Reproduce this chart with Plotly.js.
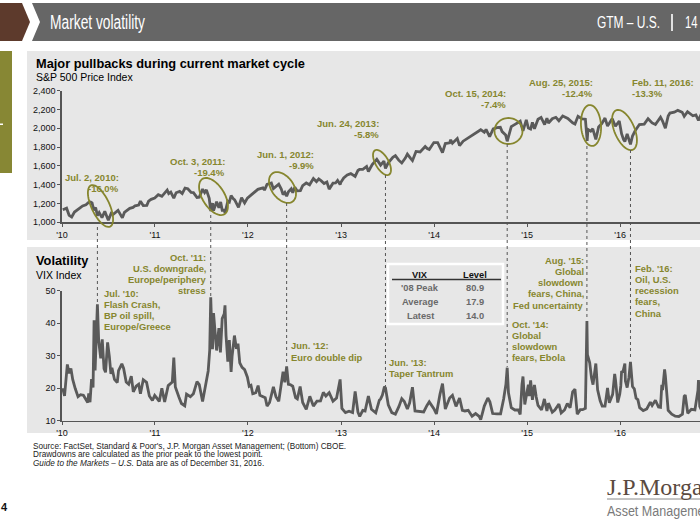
<!DOCTYPE html>
<html><head><meta charset="utf-8">
<script src="https://cdn.plot.ly/plotly-3.0.1.min.js"></script>
<style>html,body{margin:0;padding:0;background:#fff}#chart{width:700px;height:525px}</style>
</head><body><div id="chart"></div>
<script>
// ---------------- DATA ----------------
const spxDates = ['2010-01-04','2010-01-19','2010-01-29','2010-02-08','2010-02-19','2010-03-05','2010-03-23','2010-04-05','2010-04-15','2010-04-23','2010-04-29','2010-05-06','2010-05-13','2010-05-20','2010-05-27','2010-06-07','2010-06-18','2010-06-29','2010-07-02','2010-07-13','2010-07-20','2010-08-09','2010-08-17','2010-08-26','2010-09-03','2010-09-15','2010-09-24','2010-10-07','2010-10-15','2010-10-29','2010-11-05','2010-11-16','2010-11-30','2010-12-07','2010-12-17','2010-12-31',
'2011-01-14','2011-01-28','2011-02-09','2011-02-18','2011-02-24','2011-03-04','2011-03-16','2011-03-25','2011-04-08','2011-04-18','2011-04-29','2011-05-10','2011-05-23','2011-06-01','2011-06-15','2011-06-24','2011-07-07','2011-07-15','2011-07-22','2011-08-02','2011-08-08','2011-08-15','2011-08-19','2011-08-31','2011-09-09','2011-09-16','2011-09-22','2011-09-30','2011-10-03','2011-10-14','2011-10-20','2011-10-27','2011-11-04','2011-11-10','2011-11-25','2011-12-07','2011-12-19','2011-12-30',
'2012-01-13','2012-01-26','2012-02-09','2012-02-29','2012-03-06','2012-03-16','2012-04-02','2012-04-10','2012-04-20','2012-05-01','2012-05-11','2012-05-18','2012-05-25','2012-06-01','2012-06-08','2012-06-19','2012-06-25','2012-07-03','2012-07-12','2012-07-25','2012-08-03','2012-08-17','2012-08-30','2012-09-14','2012-09-26','2012-10-05','2012-10-15','2012-10-26','2012-11-06','2012-11-15','2012-11-30','2012-12-10','2012-12-18','2012-12-28','2012-12-31',
'2013-01-11','2013-01-25','2013-02-08','2013-02-25','2013-03-08','2013-03-14','2013-03-27','2013-04-11','2013-04-18','2013-05-03','2013-05-21','2013-06-05','2013-06-18','2013-06-24','2013-07-05','2013-07-23','2013-08-02','2013-08-15','2013-08-27','2013-09-10','2013-09-18','2013-09-30','2013-10-08','2013-10-22','2013-11-07','2013-11-27','2013-12-05','2013-12-13','2013-12-31',
'2014-01-15','2014-01-24','2014-02-03','2014-02-14','2014-03-03','2014-03-07','2014-03-14','2014-04-02','2014-04-11','2014-04-25','2014-05-13','2014-05-30','2014-06-20','2014-07-03','2014-07-17','2014-07-24','2014-08-07','2014-08-21','2014-09-05','2014-09-18','2014-09-25','2014-10-01','2014-10-09','2014-10-15','2014-10-22','2014-10-31','2014-11-13','2014-11-28','2014-12-05','2014-12-16','2014-12-29',
'2015-01-06','2015-01-15','2015-01-22','2015-01-30','2015-02-13','2015-02-25','2015-03-11','2015-03-20','2015-03-26','2015-04-10','2015-04-24','2015-05-06','2015-05-21','2015-06-10','2015-06-29','2015-07-08','2015-07-20','2015-08-05','2015-08-18','2015-08-21','2015-08-25','2015-08-28','2015-09-08','2015-09-16','2015-09-28','2015-10-09','2015-10-22','2015-11-03','2015-11-13','2015-12-01','2015-12-14','2015-12-29',
'2016-01-07','2016-01-15','2016-01-20','2016-01-29','2016-02-05','2016-02-11','2016-02-19','2016-03-01','2016-03-17','2016-04-05','2016-04-20','2016-05-06','2016-05-19','2016-06-08','2016-06-16','2016-06-27','2016-07-08','2016-07-15','2016-08-01','2016-08-15','2016-09-01','2016-09-09','2016-09-22','2016-10-13','2016-10-25','2016-11-04','2016-11-25','2016-12-13','2016-12-30'];
const spxValues = [1133,1150,1074,1057,1109,1139,1174,1187,1211,1217,1206,1128,1157,1071,1103,1050,1117,1041,1022,1095,1083,1127,1092,1047,1105,1125,1148,1158,1176,1183,1225,1178,1180,1224,1244,1258,
1293,1276,1321,1343,1306,1321,1256,1314,1328,1305,1364,1357,1317,1315,1265,1268,1353,1316,1345,1254,1119,1204,1124,1219,1154,1216,1129,1131,1099,1225,1215,1285,1253,1239,1159,1261,1206,1258,
1289,1318,1351,1366,1343,1404,1419,1358,1379,1405,1353,1295,1318,1278,1326,1357,1314,1374,1335,1337,1391,1418,1399,1466,1433,1461,1440,1412,1428,1353,1416,1418,1446,1402,1426,
1472,1503,1518,1488,1551,1563,1563,1593,1541,1614,1669,1608,1652,1573,1632,1692,1709,1661,1631,1683,1725,1682,1656,1754,1748,1807,1785,1775,1848,
1848,1790,1742,1838,1845,1878,1841,1891,1815,1863,1897,1924,1962,1985,1958,1988,1910,1993,2007,2011,1965,1946,1928,1862,1927,2018,2039,2068,2075,1972,2090,
2003,1992,2063,1995,2097,2115,2040,2108,2056,2102,2117,2080,2131,2105,2058,2046,2128,2100,2097,1971,1867,1989,1970,1995,1881,2014,2052,2109,2023,2103,2022,2078,
1943,1880,1859,1940,1880,1829,1918,1978,2040,2045,2102,2057,2040,2119,2077,2000,2130,2162,2171,2191,2171,2128,2177,2133,2143,2085,2213,2271,2239];

const vixDates = ['2010-01-04','2010-01-11','2010-01-22','2010-01-29','2010-02-05','2010-02-12','2010-02-22','2010-03-05','2010-03-15','2010-03-26','2010-04-12','2010-04-16','2010-04-21','2010-04-27','2010-05-03','2010-05-06','2010-05-07','2010-05-11','2010-05-14','2010-05-20','2010-05-25','2010-06-02','2010-06-08','2010-06-15','2010-06-21','2010-06-29','2010-07-06','2010-07-12','2010-07-16','2010-07-26','2010-08-06','2010-08-11','2010-08-24','2010-08-31','2010-09-10','2010-09-20','2010-09-30','2010-10-08','2010-10-19','2010-10-29','2010-11-05','2010-11-16','2010-11-29','2010-12-10','2010-12-22','2010-12-31',
'2011-01-07','2011-01-18','2011-01-28','2011-02-08','2011-02-22','2011-03-10','2011-03-16','2011-03-22','2011-04-05','2011-04-15','2011-04-28','2011-05-05','2011-05-20','2011-06-01','2011-06-15','2011-06-24','2011-07-07','2011-07-18','2011-07-29','2011-08-04','2011-08-08','2011-08-10','2011-08-15','2011-08-19','2011-08-31','2011-09-09','2011-09-15','2011-09-22','2011-09-30','2011-10-03','2011-10-07','2011-10-14','2011-10-20','2011-10-27','2011-10-31','2011-11-09','2011-11-17','2011-11-23','2011-11-30','2011-12-09','2011-12-19','2011-12-30',
'2012-01-06','2012-01-13','2012-01-20','2012-02-01','2012-02-10','2012-02-17','2012-03-01','2012-03-09','2012-03-16','2012-03-26','2012-04-10','2012-04-20','2012-05-01','2012-05-09','2012-05-18','2012-05-25','2012-06-01','2012-06-08','2012-06-15','2012-06-25','2012-07-06','2012-07-13','2012-07-24','2012-08-03','2012-08-17','2012-08-31','2012-09-14','2012-09-28','2012-10-12','2012-10-23','2012-11-02','2012-11-15','2012-11-30','2012-12-14','2012-12-28',
'2013-01-04','2013-01-18','2013-02-01','2013-02-15','2013-02-25','2013-03-08','2013-03-15','2013-03-27','2013-04-05','2013-04-18','2013-04-30','2013-05-17','2013-05-31','2013-06-05','2013-06-12','2013-06-20','2013-06-24','2013-07-05','2013-07-19','2013-08-02','2013-08-16','2013-08-27','2013-09-06','2013-09-18','2013-09-27','2013-10-08','2013-10-18','2013-11-01','2013-11-21','2013-12-04','2013-12-13','2013-12-31',
'2014-01-10','2014-01-24','2014-02-03','2014-02-14','2014-03-03','2014-03-14','2014-03-28','2014-04-11','2014-04-22','2014-05-02','2014-05-15','2014-05-30','2014-06-13','2014-06-27','2014-07-03','2014-07-17','2014-07-31','2014-08-08','2014-08-19','2014-09-05','2014-09-19','2014-10-01','2014-10-10','2014-10-15','2014-10-20','2014-10-31','2014-11-14','2014-11-28','2014-12-05','2014-12-12','2014-12-16','2014-12-23','2014-12-31',
'2015-01-06','2015-01-09','2015-01-15','2015-01-22','2015-01-30','2015-02-06','2015-02-13','2015-02-27','2015-03-10','2015-03-20','2015-03-26','2015-04-10','2015-04-20','2015-05-06','2015-05-15','2015-05-28','2015-06-08','2015-06-19','2015-06-29','2015-07-08','2015-07-17','2015-07-29','2015-08-07','2015-08-18','2015-08-21','2015-08-24','2015-08-26','2015-08-31','2015-09-04','2015-09-11','2015-09-17','2015-09-28','2015-10-05','2015-10-15','2015-10-23','2015-11-03','2015-11-13','2015-11-20','2015-12-03','2015-12-11','2015-12-14','2015-12-23','2015-12-31',
'2016-01-04','2016-01-07','2016-01-13','2016-01-20','2016-01-22','2016-01-29','2016-02-05','2016-02-11','2016-02-19','2016-02-26','2016-03-04','2016-03-11','2016-03-18','2016-04-01','2016-04-15','2016-04-29','2016-05-06','2016-05-19','2016-05-31','2016-06-08','2016-06-13','2016-06-16','2016-06-24','2016-06-27','2016-07-08','2016-07-22','2016-08-05','2016-08-19','2016-09-02','2016-09-09','2016-09-13','2016-09-23','2016-10-07','2016-10-21','2016-11-02','2016-11-04','2016-11-09','2016-11-18','2016-12-02','2016-12-09','2016-12-20','2016-12-30'];
const vixValues = [20.0,17.6,27.3,24.6,26.1,22.7,19.9,17.4,18.0,17.8,15.6,18.4,15.7,22.8,20.2,33.0,40.9,25.5,31.2,45.8,34.6,29.2,35.0,26.0,24.9,34.1,29.7,24.4,26.3,22.7,21.7,25.4,27.5,26.1,21.9,21.2,23.7,18.9,20.6,21.2,18.3,22.6,21.8,17.6,16.2,17.8,
17.1,15.9,20.0,15.8,20.8,21.9,29.4,20.4,17.3,15.3,14.6,18.2,17.4,18.3,22.0,21.1,15.9,20.9,25.3,31.7,48.0,42.9,32.0,43.1,31.6,38.5,31.0,41.4,42.9,45.5,36.2,28.2,34.8,25.0,29.9,36.2,32.1,33.7,27.8,26.4,25.7,23.4,
20.6,20.9,18.3,18.6,20.8,17.8,17.3,17.1,14.5,15.6,20.4,17.4,16.0,20.1,25.1,21.8,26.7,21.2,21.1,20.6,17.1,16.7,20.5,15.6,13.5,17.5,14.5,16.0,16.1,18.7,17.6,18.6,16.0,17.0,22.7,
13.8,12.5,12.9,12.5,19.0,12.6,11.3,13.2,13.0,17.6,13.5,12.4,16.3,16.7,17.9,20.5,20.1,14.9,12.5,12.0,14.4,16.8,15.9,13.6,15.5,20.3,13.0,12.9,12.7,14.7,15.8,13.7,
12.1,18.1,21.4,13.6,17.0,17.8,14.4,17.0,13.2,13.0,13.2,11.4,12.2,11.3,10.3,14.5,17.0,15.8,12.2,12.1,12.1,16.7,21.2,26.3,18.6,14.0,13.3,13.3,11.9,21.1,23.6,15.0,19.2,
21.1,17.6,22.4,16.4,21.0,17.3,14.7,13.3,16.7,13.0,15.4,12.6,13.3,15.1,12.4,13.3,15.3,14.0,18.9,19.7,12.0,13.4,13.4,13.8,28.0,40.7,30.3,28.4,27.8,23.2,21.1,27.6,19.5,16.1,14.5,14.5,20.1,15.5,18.1,24.4,22.7,15.6,18.2,
20.7,25.0,25.2,27.6,22.3,20.2,23.4,28.1,20.5,19.8,16.9,16.5,14.0,13.1,13.6,15.7,14.7,16.3,14.2,14.1,21.0,19.4,25.8,23.9,13.2,12.0,11.4,11.3,12.0,17.5,17.9,12.3,13.5,13.3,19.3,22.5,14.4,12.9,14.1,11.8,11.5,14.0];

const yearTicks = ['2010-01-01','2011-01-01','2012-01-01','2013-01-01','2014-01-01','2015-01-01','2016-01-01'];
const yearLabels = ["'10","'11","'12","'13","'14","'15","'16"];
const spxTicks = [1000,1200,1400,1600,1800,2000,2200,2400];
const vixTicks = [10,20,30,40,50];

const pullbackDates = ['Jul. 2, 2010:','Oct. 3, 2011:','Jun. 1, 2012:','Jun. 24, 2013:','Oct. 15, 2014:','Aug. 25, 2015:','Feb. 11, 2016:'];
const pullbackPcts = ['-16.0%','-19.4%','-9.9%','-5.8%','-7.4%','-12.4%','-13.3%'];
const eventDates = ['2010-05-20','2011-08-08','2012-06-01','2013-06-24','2014-10-15','2015-08-24','2016-02-11'];
const eventTexts = [
  ["Jul. '10:","Flash Crash,","BP oil spill,","Europe/Greece"],
  ["Oct. '11:","U.S. downgrade,","Europe/periphery","stress"],
  ["Jun. '12:","Euro double dip"],
  ["Jun. '13:","Taper Tantrum"],
  ["Oct. '14:","Global","slowdown","fears, Ebola"],
  ["Aug. '15:","Global","slowdown","fears, China,","Fed uncertainty"],
  ["Feb. '16:","Oil, U.S.","recession","fears,","China"]
];
const tableHeader = ['VIX','Level'];
const tableRows = ["'08 Peak",'Average','Latest'];
const tableLevels = ['80.9','17.9','14.0'];

// ---------------- LAYOUT HELPERS (pixel -> paper) ----------------
const W = 700, H = 525;
const px = x => x / W;
const py = y => 1 - y / H;
const FONT = 'Liberation Sans, Arial, sans-serif';
const OLIVE = '#86862e';
const LINE = '#5a5a5a';
const AXIS = '#555555';

const x0ms = Date.parse('2010-01-01T00:00:00Z');
const yearMs = 365.25 * 86400000;
const xEnd = new Date(x0ms + (638 / 93) * yearMs).toISOString().slice(0, 10);

const annotations = [];
const shapes = [];
const squeeze = {};   // text -> target pixel width (narrow header typeface)
function txt(x, y, s, o) {
  o = o || {};
  annotations.push({xref:'paper', yref:'paper', x:px(x), y:py(y), text:s, showarrow:false,
    xanchor:o.anchor || 'left', yanchor:'middle', align:o.anchor === 'right' ? 'right' : (o.anchor === 'center' ? 'center' : 'left'),
    borderpad:0, font:{family:o.family || FONT, size:o.size || 9, color:o.color || '#111'}});
  if (o.width) squeeze[s] = {w:o.width, left:x};
}
function block(lines, x, yFirst, anchor, step, size, color) {
  lines.forEach((l, i) => txt(x, yFirst + i * step, '<b>' + l + '</b>', {anchor, size, color}));
}
function rect(x0, y0, x1, y1, fill, line) {
  shapes.push({type:'rect', xref:'paper', yref:'paper', x0:px(x0), x1:px(x1), y0:py(y1), y1:py(y0),
    fillcolor:fill, line:line || {width:0}, layer:'below'});
}
function poly(pts, fill) {
  const d = pts.map((p, i) => (i ? 'L' : 'M') + px(p[0]).toFixed(5) + ',' + py(p[1]).toFixed(5)).join(' ') + ' Z';
  shapes.push({type:'path', xref:'paper', yref:'paper', path:d, fillcolor:fill, line:{width:0}, layer:'below'});
}
function ellipse(cx, cy, a, b, deg) {
  const t = deg * Math.PI / 180, pts = [];
  for (let i = 0; i <= 60; i++) {
    const u = 2 * Math.PI * i / 60;
    pts.push([cx + a * Math.cos(u) * Math.cos(t) - b * Math.sin(u) * Math.sin(t),
              cy + a * Math.cos(u) * Math.sin(t) + b * Math.sin(u) * Math.cos(t)]);
  }
  const d = pts.map((p, i) => (i ? 'L' : 'M') + px(p[0]).toFixed(5) + ',' + py(p[1]).toFixed(5)).join(' ') + ' Z';
  shapes.push({type:'path', xref:'paper', yref:'paper', path:d, line:{color:OLIVE, width:1.8}, fillcolor:'rgba(0,0,0,0)', layer:'above'});
}

// ---------------- HEADER ----------------
poly([[0,3],[22,3],[30,22],[22,41],[0,41]], '#5d3a2c');
poly([[32,3],[700,3],[700,41],[32,41],[40,22]], '#666666');
txt(50, 22.5, 'Market volatility', {size:19.5, color:'#ffffff', width:95});
txt(597, 22.5, 'GTM – U.S.', {size:16, color:'#ffffff', width:63});
shapes.push({type:'line', xref:'paper', yref:'paper', x0:px(672), x1:px(672), y0:py(14), y1:py(31), line:{color:'#ffffff', width:1.6}});
txt(685, 22.5, '14', {size:16, color:'#ffffff', width:12.5});

// side block and panels
rect(0, 51, 12, 173, '#878734');
rect(0, 123.5, 3, 125, '#ffffff');
rect(27, 51, 700, 240, '#e7e7e7');
rect(27, 247, 700, 433, '#e7e7e7');

// panel titles
txt(35, 63, '<b>Major pullbacks during current market cycle</b>', {size:12.8, color:'#000'});
txt(35, 77, 'S&P 500 Price Index', {size:10.5, color:'#000'});
txt(35, 260, '<b>Volatility</b>', {size:12.8, color:'#000'});
txt(35, 274.5, 'VIX Index', {size:10.5, color:'#000'});

// ellipses around pullbacks (pixel geometry)
const ell = [[100.5,206,22.7,9,65],[213.5,196.5,20.8,11,58],[282.5,187.5,17.3,11,54],[382,162.5,14,6.5,60],[508.5,131,14,13,0],[591,125.5,20.5,10,86],[624.5,130,21.4,10,67]];
ell.forEach(e => ellipse(...e));

// pullback labels
const plPos = [[120,177,'right'],[226,161,'right'],[315,154,'right'],[380,123,'right'],[507,93,'right'],[594,82,'right'],[631,82,'left']];
pullbackDates.forEach((d, i) => block([d, pullbackPcts[i]], plPos[i][0], plPos[i][1], plPos[i][2], 11.3, 9.5, OLIVE));

// dotted connectors (x from event dates)
const conn = [[227,302],[215,296],[203,362],[175,386],[144,367],[146,320],[150,357]];
eventDates.forEach((d, i) => shapes.push({type:'line', xref:'x', yref:'paper', x0:d, x1:d, y0:py(conn[i][0]), y1:py(conn[i][1]),
  line:{color:'#555', width:1, dash:'dot'}, layer:'above'}));

// event texts
const evPos = [[103,293,'left'],[207,257,'right'],[290,345.7,'left'],[388,362,'left'],[511,324,'left'],[585,260,'right'],[634,268,'left']];
eventTexts.forEach((lines, i) => block(lines, evPos[i][0], evPos[i][1], evPos[i][2], 11.3, 9.4, OLIVE));

// VIX table
shapes.push({type:'rect', xref:'paper', yref:'paper', x0:px(388), x1:px(503), y0:py(324), y1:py(264), fillcolor:'#e7e7e7', line:{color:'#ffffff', width:2.5}, layer:'above'});
shapes.push({type:'line', xref:'paper', yref:'paper', x0:px(392), x1:px(501), y0:py(279.5), y1:py(279.5), line:{color:'#333', width:1.5}});
txt(420, 274.5, '<b>' + tableHeader[0] + '</b>', {anchor:'center', size:9.3, color:'#111'});
txt(474.5, 274.5, '<b>' + tableHeader[1] + '</b>', {anchor:'center', size:9.3, color:'#111'});
tableRows.forEach((r, i) => {
  txt(420, 288 + i * 14, '<b>' + r + '</b>', {anchor:'center', size:9.3, color:'#6a6a6a'});
  txt(474.5, 288 + i * 14, '<b>' + tableLevels[i] + '</b>', {anchor:'center', size:9.3, color:'#6a6a6a'});
});

// footer
txt(32, 446, "Source: FactSet, Standard & Poor's, J.P. Morgan Asset Management; (Bottom) CBOE.", {size:8.2, color:'#222'});
txt(32, 454.8, 'Drawdowns are calculated as the prior peak to the lowest point.', {size:8.2, color:'#222'});
txt(32, 463.6, '<i>Guide to the Markets – U.S.</i> Data are as of December 31, 2016.', {size:8.2, color:'#222'});
txt(0, 507, '<b>4</b>', {size:11, color:'#111'});
txt(606, 487, 'J.P.Morgan', {family:'Liberation Serif, Times New Roman, serif', size:24, color:'#5a4a40'});
shapes.push({type:'line', xref:'paper', yref:'paper', x0:px(607), x1:px(700), y0:py(499), y1:py(499), line:{color:'#8a8a8a', width:1}});
txt(607, 510.5, 'Asset Management', {size:14, color:'#7a7a7a', width:108});

// ---------------- TRACES ----------------
const traces = [
  {type:'scatter', mode:'lines', x:spxDates, y:spxValues, xaxis:'x', yaxis:'y', line:{color:LINE, width:2.8}, hoverinfo:'skip'},
  {type:'scatter', mode:'lines', x:vixDates, y:vixValues, xaxis:'x2', yaxis:'y2', line:{color:LINE, width:2.8}, hoverinfo:'skip'}
];

const xCommon = {type:'date', range:['2010-01-01', xEnd], domain:[px(62), 1], showgrid:false, zeroline:false,
  showline:true, linecolor:AXIS, linewidth:1.6, ticks:'outside', ticklen:3, tickcolor:AXIS, tickwidth:1,
  tickmode:'array', tickvals:yearTicks, ticktext:yearLabels, tickfont:{family:FONT, size:9, color:'#111'}};
const yCommon = {showgrid:false, zeroline:false, showline:true, linecolor:AXIS, linewidth:1.6, ticks:'outside',
  ticklen:3, tickcolor:AXIS, tickwidth:1, tickmode:'array', tickfont:{family:FONT, size:9, color:'#111'}};

const layout = {
  width:W, height:H, autosize:false, margin:{l:0, r:0, t:0, b:0, pad:0},
  paper_bgcolor:'#ffffff', plot_bgcolor:'rgba(0,0,0,0)', showlegend:false,
  xaxis:Object.assign({}, xCommon, {anchor:'y'}),
  yaxis:Object.assign({}, yCommon, {anchor:'x', domain:[py(222.3), py(90.7)], range:[1000, 2400], tickvals:spxTicks, tickformat:','}),
  xaxis2:Object.assign({}, xCommon, {anchor:'y2'}),
  yaxis2:Object.assign({}, yCommon, {anchor:'x2', domain:[py(420.7), py(290.7)], range:[10, 50], tickvals:vixTicks}),
  shapes:shapes, annotations:annotations
};

// condense header texts to the narrow typeface widths of the original
function condense() {
  const root = document.getElementById('chart').getBoundingClientRect();
  document.querySelectorAll('.annotation-text').forEach(t => {
    const spec = squeeze[t.textContent];
    if (!spec) return;
    t.setAttribute('textLength', spec.w);
    t.setAttribute('lengthAdjust', 'spacingAndGlyphs');
    const bb = t.getBoundingClientRect();
    const dx = spec.left - (bb.left - root.left);
    const cur = parseFloat(t.getAttribute('x')) || 0;
    t.setAttribute('x', cur + dx);
  });
}
Plotly.newPlot('chart', traces, layout, {displayModeBar:false, staticPlot:true}).then(condense);
</script></body></html>
